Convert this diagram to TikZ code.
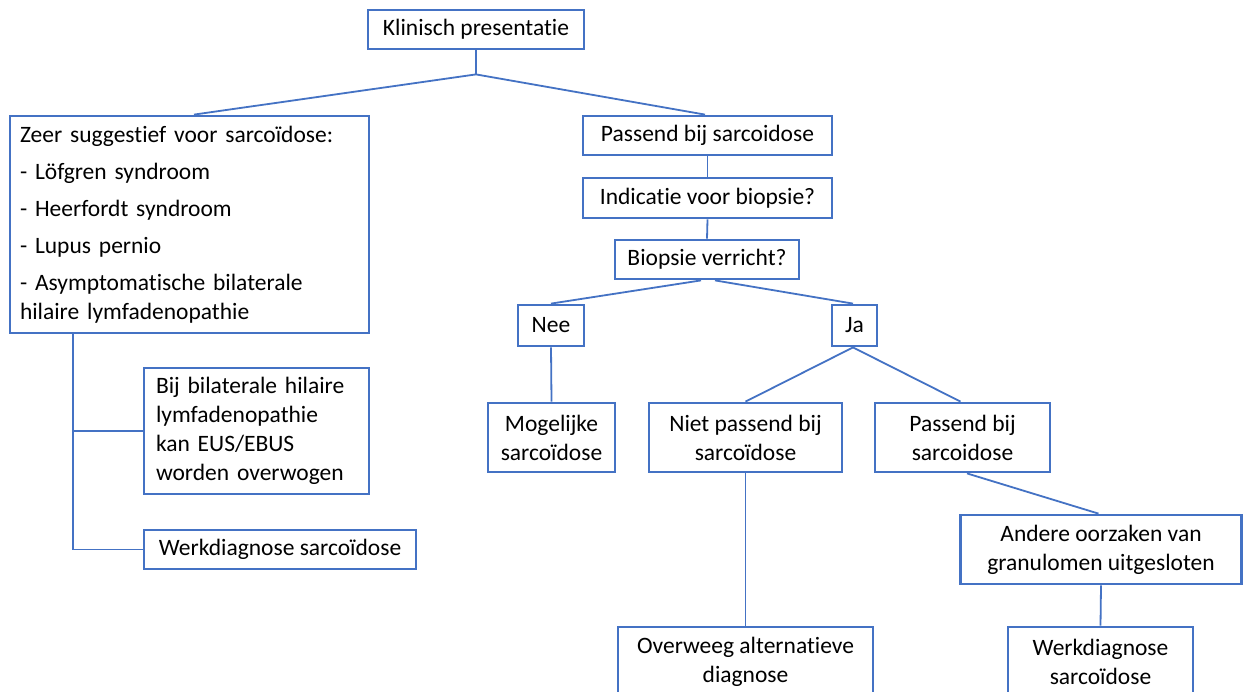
\documentclass[tikz,border=0pt]{standalone}
\usepackage{fontspec}
\setmainfont[Ligatures=NoCommon]{Carlito}
\usetikzlibrary{calc}
\definecolor{boxblue}{RGB}{68,114,196}
\begin{document}
\begin{tikzpicture}[x=1pt,y=-1pt,
  every node/.style={font=\fontsize{23.5}{29}\selectfont, text=black},
  box/.style={draw=boxblue, line width=2.8pt, fill=white, rectangle, inner sep=0pt, align=center},
  lbox/.style={box, align=left, anchor=center},
  link/.style={draw=boxblue, line width=1.8pt}]
\useasboundingbox (0,0) rectangle (1246,691);
\clip (0,0) rectangle (1246,691);
\fill[white] (0,0) rectangle (1246,691);

% top level
\node[box, minimum width=216, minimum height=39] (kp) at (476,29.5) {Klinisch presentatie};

% left branch
\node[lbox, minimum width=359, minimum height=217, text width=339, inner xsep=10pt] (zeer) at (189.5,224.5)
  {Zeer suggestief voor sarcoïdose:\\[8pt]
   - Löfgren syndroom\\[8pt]
   - Heerfordt syndroom\\[8pt]
   - Lupus pernio\\[8pt]
   - Asymptomatische bilaterale\\hilaire lymfadenopathie};
\node[lbox, minimum width=225, minimum height=126, text width=201, inner xsep=12pt] (bij) at (256.5,431)
  {Bij bilaterale hilaire\\lymfadenopathie\\kan EUS/EBUS\\worden overwogen};
\node[box, minimum width=272, minimum height=39] (werka) at (280,549.5) {Werkdiagnose sarcoïdose};

% right branch
\node[box, minimum width=249, minimum height=39] (pas) at (707.5,135.5) {Passend bij sarcoidose};
\node[box, minimum width=249, minimum height=40] (ind) at (707.5,198) {Indicatie voor biopsie?};
\node[box, minimum width=184, minimum height=39] (bio) at (707,259.5) {Biopsie verricht?};
\node[box, minimum width=66, minimum height=41] (nee) at (551,325.5) {Nee};
\node[box, minimum width=45, minimum height=41] (ja) at (854.5,325.5) {Ja};
\node[box, minimum width=127, minimum height=69] (mog) at (551.5,437.5) {Mogelijke\\sarcoïdose};
\node[box, minimum width=193, minimum height=69] (niet) at (745.5,437.5) {Niet passend bij\\sarcoïdose};
\node[box, minimum width=175, minimum height=69] (pasb) at (962.5,437.5) {Passend bij\\sarcoidose};
\node[box, minimum width=281, minimum height=69] (and) at (1101,549.5) {Andere oorzaken van\\granulomen uitgesloten};
\node[box, minimum width=255, minimum height=69] (ovw) at (745.5,661.5) {Overweeg alternatieve\\diagnose};
\node[box, minimum width=185, minimum height=69] (werkb) at (1100.5,661.5) {Werkdiagnose\\sarcoïdose};

% connectors
\coordinate (split) at ($(kp.south)+(0,24)$);
\draw[link] (kp.south) -- (split);
\draw[link] (split) -- ([xshift=4.5pt]zeer.north);
\draw[link] (split) -- ([xshift=-2.5pt]pas.north);
\draw[link] (pas.south) -- (ind.north);
\draw[link] (ind.south) -- (bio.north);
\draw[link] ([xshift=-6pt]bio.south) -- (nee.north);
\draw[link] ([xshift=8pt]bio.south) -- ([xshift=-1.5pt]ja.north);
\draw[link] (nee.south) -- (mog.north);
\draw[link] ([xshift=-1.5pt]ja.south) -- (niet.north);
\draw[link] ([xshift=-1.5pt]ja.south) -- ([xshift=-2pt]pasb.north);
\draw[link] (niet.south) -- (ovw.north);
\draw[link] ([xshift=4.5pt]pasb.south) -- ([xshift=-2.5pt]and.north);
\draw[link] (and.south) -- (werkb.north);

\coordinate (trunk) at ([xshift=64pt]zeer.south west);
\draw[link] (trunk) |- (werka.west);
\draw[link] (trunk |- bij.west) -- (bij.west);
\end{tikzpicture}
\end{document}
